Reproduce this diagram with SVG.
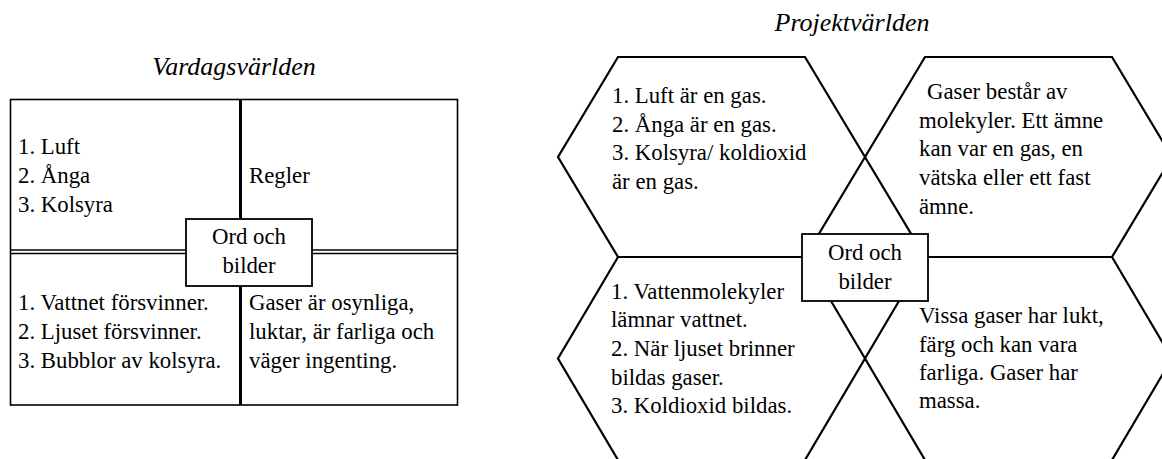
<svg xmlns="http://www.w3.org/2000/svg" width="1162" height="459" viewBox="0 0 1162 459">
  <style>
    .t { font-size: 22.8px; }
    .title { font-size: 26px; font-style: italic; }
    .mid { text-anchor: middle; }
    .frame { fill: none; stroke: #000; stroke-width: 1.6; }
    .hex { fill: none; stroke: #000; stroke-width: 2.2; stroke-linejoin: miter; }
    .box { fill: #fff; stroke: #000; stroke-width: 1.8; }
  </style>

  <rect width="1162" height="459" fill="#fff"/>

  <g font-family="Liberation Serif, Times New Roman, serif" fill="#000">

  <!-- Left: everyday world, a 2x2 table -->
  <text class="title mid" x="234" y="75">Vardagsvärlden</text>

  <g id="grid-lines">
    <rect class="frame" x="10.5" y="99.5" width="447" height="305.5"/>
    <!-- double rule between the rows -->
    <line class="frame" x1="10.5" y1="250" x2="457.5" y2="250" stroke-width="1.2"/>
    <line class="frame" x1="10.5" y1="253.5" x2="457.5" y2="253.5" stroke-width="1.2"/>
    <!-- heavy rule between the columns -->
    <line x1="240.5" y1="99.5" x2="240.5" y2="405" stroke="#000" stroke-width="3"/>
  </g>

  <g id="cell-top-left">
    <text class="t" x="18" y="154">1. Luft</text>
    <text class="t" x="18" y="183">2. Ånga</text>
    <text class="t" x="18" y="212">3. Kolsyra</text>
  </g>
  <g id="cell-top-right">
    <text class="t" x="249" y="183">Regler</text>
  </g>
  <g id="cell-bottom-left">
    <text class="t" x="18" y="310">1. Vattnet försvinner.</text>
    <text class="t" x="18" y="339">2. Ljuset försvinner.</text>
    <text class="t" x="18" y="368">3. Bubblor av kolsyra.</text>
  </g>
  <g id="cell-bottom-right">
    <text class="t" x="249" y="310">Gaser är osynliga,</text>
    <text class="t" x="249" y="339">luktar, är farliga och</text>
    <text class="t" x="249" y="368">väger ingenting.</text>
  </g>
  <g id="center-left">
    <rect class="box" x="186" y="219" width="126" height="67"/>
    <text class="t mid" x="249" y="244">Ord och</text>
    <text class="t mid" x="249" y="273">bilder</text>
  </g>

  <!-- Right: project world, four hexagons meeting at one point -->
  <text class="title mid" x="852" y="31">Projektvärlden</text>

  <g id="connectors"></g>

  <g id="hex-top-left">
    <polygon class="hex" points="618,57 805,57 865,157 805,257 618,257 558,157"/>
    <text class="t" x="612" y="103">1. Luft är en gas.</text>
    <text class="t" x="612" y="132">2. Ånga är en gas.</text>
    <text class="t" x="612" y="160">3. Kolsyra/ koldioxid</text>
    <text class="t" x="612" y="189">är en gas.</text>
  </g>
  <g id="hex-top-right">
    <polygon class="hex" points="925,57 1112,57 1172,157 1112,257 925,257 865,157"/>
    <text class="t" x="927" y="99">Gaser består av</text>
    <text class="t" x="919" y="128">molekyler. Ett ämne</text>
    <text class="t" x="919" y="156">kan var en gas, en</text>
    <text class="t" x="919" y="185">vätska eller ett fast</text>
    <text class="t" x="919" y="214">ämne.</text>
  </g>
  <g id="hex-bottom-left">
    <polygon class="hex" points="618,257 805,257 865,358.5 805,460 618,460 558,358.5"/>
    <text class="t" x="611" y="299">1. Vattenmolekyler</text>
    <text class="t" x="611" y="327">lämnar vattnet.</text>
    <text class="t" x="611" y="356">2. När ljuset brinner</text>
    <text class="t" x="611" y="385">bildas gaser.</text>
    <text class="t" x="611" y="413">3. Koldioxid bildas.</text>
  </g>
  <g id="hex-bottom-right">
    <polygon class="hex" points="925,257 1112,257 1172,358.5 1112,460 925,460 865,358.5"/>
    <text class="t" x="919" y="323">Vissa gaser har lukt,</text>
    <text class="t" x="919" y="352">färg och kan vara</text>
    <text class="t" x="919" y="380">farliga. Gaser har</text>
    <text class="t" x="919" y="408">massa.</text>
  </g>
  <g id="center-right">
    <rect class="box" x="802" y="234" width="126" height="67"/>
    <text class="t mid" x="865" y="260">Ord och</text>
    <text class="t mid" x="865" y="289">bilder</text>
  </g>

  </g>
</svg>
